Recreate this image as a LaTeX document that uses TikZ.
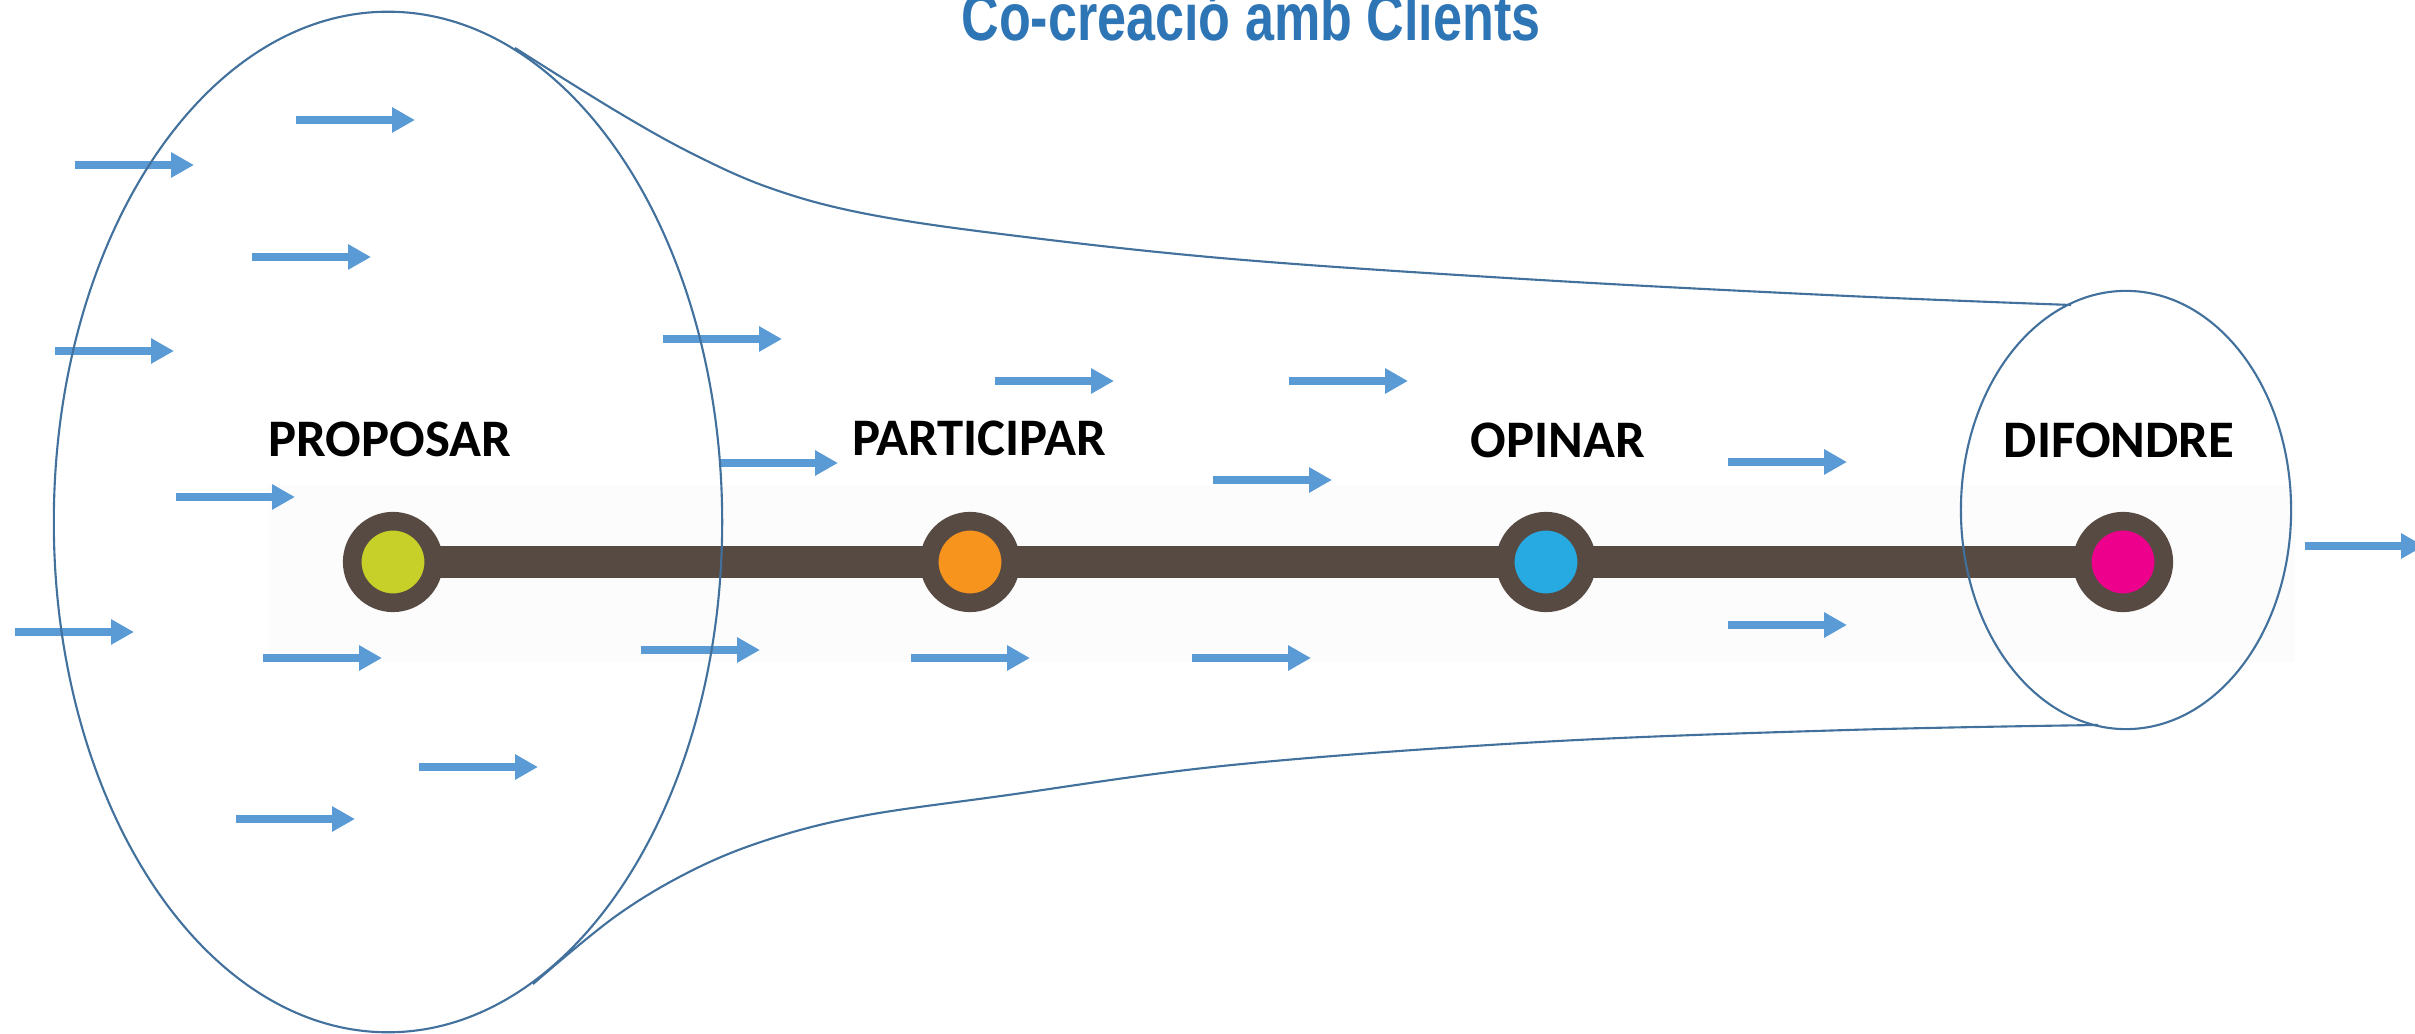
\documentclass[tikz,border=0pt]{standalone}
\usepackage{fontspec}
\setmainfont{Carlito}
\newfontfamily\titlefont{Liberation Sans}[FakeStretch=0.78]
\usetikzlibrary{arrows.meta}
\pgfdeclarelayer{background}
\pgfdeclarelayer{canvas}
\pgfsetlayers{canvas,background,main}
\definecolor{barbrown}{RGB}{87,74,66}
\definecolor{cyg}{RGB}{199,208,40}
\definecolor{corange}{RGB}{247,148,29}
\definecolor{ccyan}{RGB}{39,170,225}
\definecolor{cmag}{RGB}{236,0,140}
\definecolor{flowblue}{RGB}{91,155,213}
\definecolor{outline}{RGB}{65,113,156}
\definecolor{titleblue}{RGB}{46,117,182}
\definecolor{faint}{RGB}{252,252,252}
\begin{document}
\begin{tikzpicture}[x=0.01cm,y=-0.01cm,
  stopnode/.style={circle, draw=barbrown, line width=5.3pt, minimum size=23.2pt, inner sep=0pt},
  label/.style={anchor=base, font=\bfseries\fontsize{15pt}{18pt}\selectfont, text=black},
  flow/.style={draw=flowblue, line width=2pt, -{Triangle[length=6.5pt,width=6.8pt]}},
  shell/.style={draw=outline, line width=0.6pt},
  bar/.style={draw=barbrown, line width=9.1pt}]
\useasboundingbox (0,0) rectangle (2415,1034);
\begin{pgfonlayer}{canvas}
\fill[white] (0,0) rectangle (2415,1034);
\fill[faint] (268,485) rectangle (2295,662);
\end{pgfonlayer}

% title
\node[anchor=base, text=titleblue, font=\titlefont\bfseries\fontsize{19pt}{22pt}\selectfont] (title) at (1251,41) {Co-creació amb Clients};

% stops
\node[stopnode, fill=cyg] (n1) at (393,562) {};
\node[stopnode, fill=corange] (n2) at (970,562) {};
\node[stopnode, fill=ccyan] (n3) at (1546,562) {};
\node[stopnode, fill=cmag] (n4) at (2123,562) {};

\begin{pgfonlayer}{background}
\draw[bar] (n1.center) -- (n4.center);
\end{pgfonlayer}

% labels
\node[label] (l1) at (390,457) {PROPOSAR};
\node[label] (l2) at (979,456) {PARTICIPAR};
\node[label] (l3) at (1558,458) {OPINAR};
\node[label] (l4) at (2119,458) {DIFONDRE};

% flow arrows
\foreach \x/\y in {75/165, 296/120, 252/257, 55/351, 663/339, 719/463, 176/497,
  15/632, 263/658, 641/650, 419/767, 236/819, 995/381, 1289/381, 1213/480,
  911/658, 1192/658, 1728/462, 1728/625, 2305/546}
  \draw[flow] (\x,\y) -- ++(119,0);

% funnel
\draw[shell] (388,522) ellipse [x radius=3.34cm, y radius=5.10cm];
\draw[shell] plot[smooth, tension=0.6] coordinates {(515,48) (616,111) (693,154) (770,188) (862,213) (1001,234) (1232,259) (1540,280) (1848,296) (2071,305)};
\draw[shell] plot[smooth, tension=0.6] coordinates {(533,984) (616,916) (693,870) (770,839) (862,816) (1001,796) (1232,765) (1540,742) (1848,730) (2098,725)};
\draw[shell] (2126,510) ellipse [x radius=1.65cm, y radius=2.19cm];
\end{tikzpicture}
\end{document}
